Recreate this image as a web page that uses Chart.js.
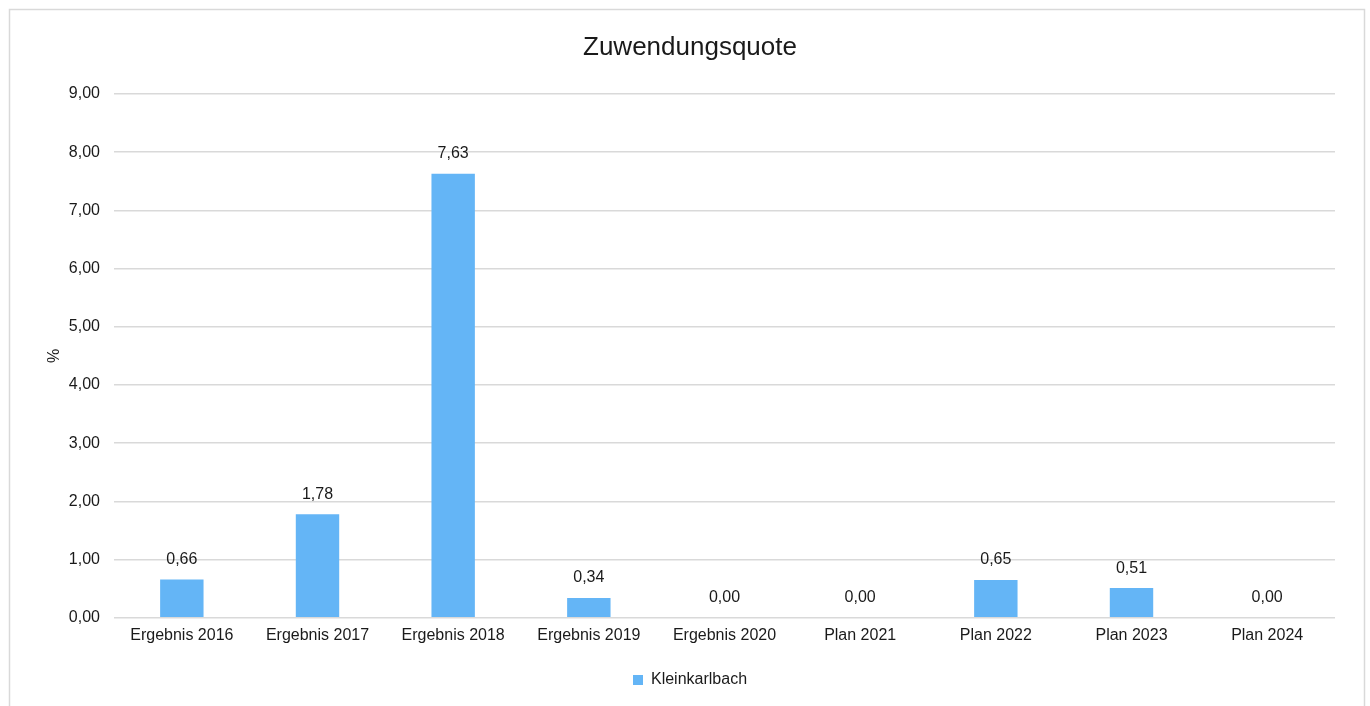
<!DOCTYPE html>
<html>
<head>
<meta charset="utf-8">
<script src="https://cdn.jsdelivr.net/npm/chart.js@4.4.0/dist/chart.umd.min.js"></script>
<style>
html,body{margin:0;padding:0;background:#fff;}
#wrap{position:relative;width:1370px;height:706px;}
</style>
</head>
<body>
<div id="wrap"><canvas id="c" width="1370" height="706"></canvas></div>
<script>
const categories = ["Ergebnis 2016","Ergebnis 2017","Ergebnis 2018","Ergebnis 2019","Ergebnis 2020","Plan 2021","Plan 2022","Plan 2023","Plan 2024"];
const kleinkarlbach = [0.66, 1.78, 7.63, 0.34, 0.00, 0.00, 0.65, 0.51, 0.00];
const seriesName = "Kleinkarlbach";
const chartTitle = "Zuwendungsquote";
const yAxisTitle = "%";
const yMin = 0, yMax = 9, yStep = 1;

const fmt = v => v.toFixed(2).replace('.', ',');
const FONT = "'Liberation Sans', Arial, sans-serif";
const TXT = '#1a1a1a';

const frame = {
  id: 'frame',
  beforeDraw(chart) {
    const ctx = chart.ctx;
    ctx.save();
    ctx.fillStyle = '#fff';
    ctx.fillRect(0, 0, chart.width, chart.height);
    ctx.strokeStyle = '#d9d9d9';
    ctx.lineWidth = 1.5;
    ctx.strokeRect(9.5, 9.5, 1355, 800);
    ctx.restore();
  }
};

const labels = {
  id: 'valueLabels',
  afterDatasetsDraw(chart) {
    const ctx = chart.ctx;
    const meta = chart.getDatasetMeta(0);
    const ys = chart.scales.y;
    ctx.save();
    ctx.font = "16px " + FONT;
    ctx.fillStyle = TXT;
    ctx.textAlign = 'center';
    ctx.textBaseline = 'middle';
    meta.data.forEach((bar, i) => {
      const v = chart.data.datasets[0].data[i];
      ctx.fillText(fmt(v), bar.x, ys.getPixelForValue(v) - 20);
    });
    ctx.restore();
  }
};

new Chart(document.getElementById('c'), {
  type: 'bar',
  data: {
    labels: categories,
    datasets: [{
      label: seriesName,
      data: kleinkarlbach,
      backgroundColor: '#64B5F6',
      borderWidth: 0,
      barPercentage: 0.32,
      categoryPercentage: 1.0
    }]
  },
  options: {
    responsive: false,
    animation: false,
    devicePixelRatio: 1,
    layout: { padding: { left: 45, right: 35, top: 28, bottom: 8 } },
    plugins: {
      title: {
        display: true,
        text: chartTitle,
        color: TXT,
        font: { family: FONT, size: 26, weight: 'normal' },
        padding: { top: 4, bottom: 30.8 }
      },
      legend: {
        position: 'bottom',
        labels: {
          color: TXT,
          font: { family: FONT, size: 16 },
          boxWidth: 10,
          boxHeight: 10,
          padding: 14
        }
      },
      tooltip: { enabled: false }
    },
    scales: {
      x: {
        grid: { display: false, drawTicks: false },
        border: { display: false },
        ticks: { color: TXT, font: { family: FONT, size: 16 }, padding: 8, maxRotation: 0 },
        afterFit(s) { s.height += 5; }
      },
      y: {
        min: yMin, max: yMax,
        grid: { color: '#d9d9d9', lineWidth: 1.5, drawTicks: false },
        border: { display: false },
        ticks: { stepSize: yStep, color: TXT, font: { family: FONT, size: 16 }, padding: 14, callback: v => fmt(v) },
        title: { display: true, text: yAxisTitle, color: TXT, font: { family: FONT, size: 16 }, padding: { top: 0, bottom: 0 } },
        afterFit(s) { s.width = 114 - 45; }
      }
    }
  },
  plugins: [frame, labels]
});
</script>
</body>
</html>
